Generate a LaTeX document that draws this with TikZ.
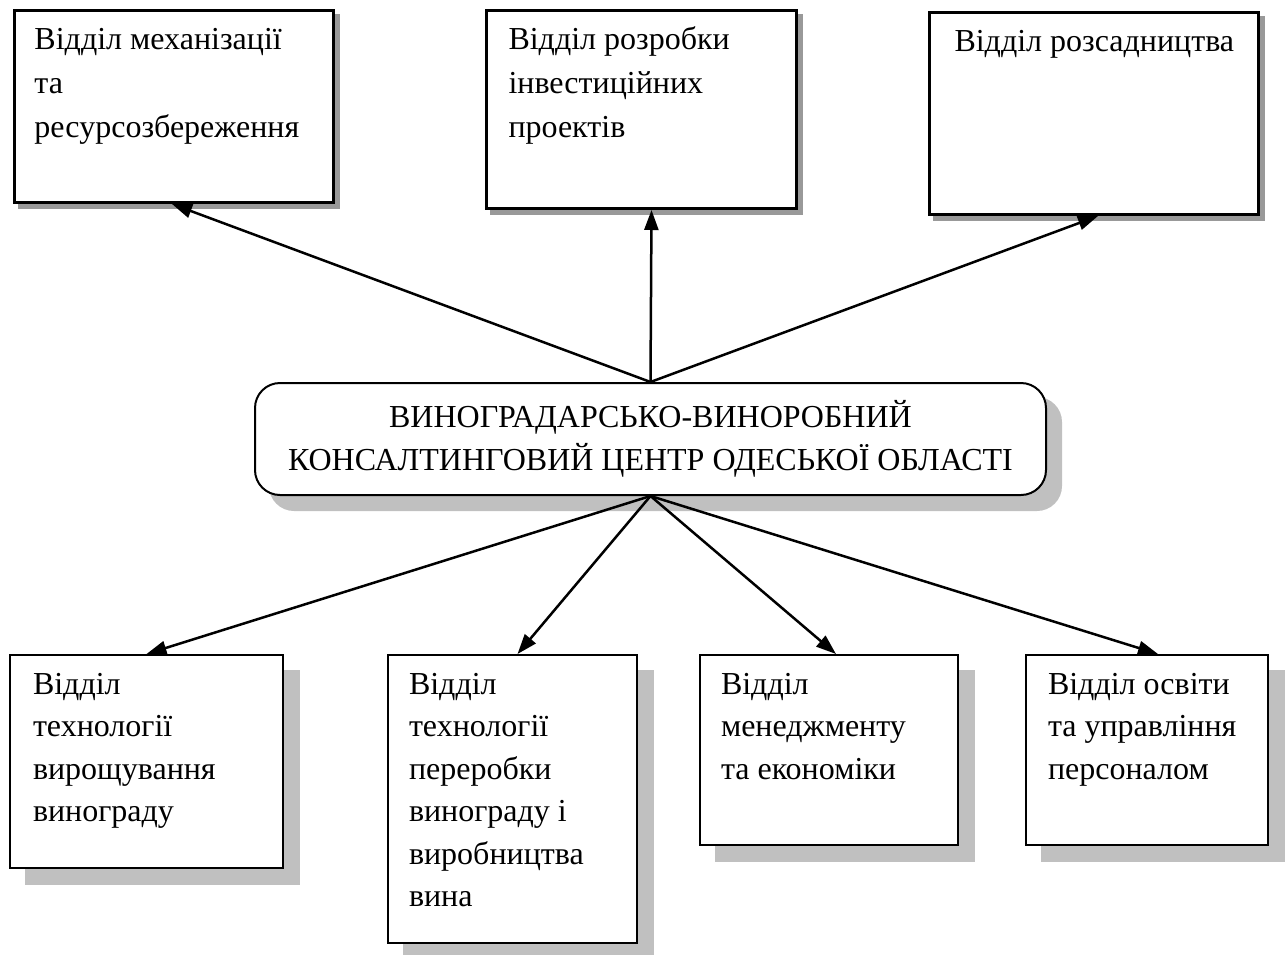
\documentclass[tikz,border=0pt]{standalone}
\usepackage{fontspec}
\setmainfont{Liberation Serif}
\usetikzlibrary{arrows.meta,backgrounds}
\newcommand\bxt[5]{\parbox[c][#1][t]{#2}{\fontsize{32}{#5}\selectfont\raggedright\leftskip=#3\relax\hyphenpenalty=10000\rule{0pt}{39pt}#4}}
\definecolor{shdark}{HTML}{999999}
\definecolor{shlight}{HTML}{C0C0C0}
\tikzset{
  topbox/.style={draw, line width=3pt, fill=white, inner sep=0pt, anchor=north west},
  botbox/.style={draw, line width=2pt, fill=white, inner sep=0pt, anchor=north west},
  centerbox/.style={draw, line width=2pt, fill=white, rounded corners=25pt, minimum width=791pt, minimum height=112pt, align=center, inner sep=0pt, font=\fontsize{32}{43}\selectfont},
  arr/.style={line width=2.5pt, -{Triangle[length=20pt,width=14pt]}},
}
\begin{document}
\begin{tikzpicture}[x=1pt,y=-1pt]
\useasboundingbox (0,0) rectangle (1286,954);
% top boxes
\node[topbox] (t1) at (13,9) {\bxt{192pt}{319pt}{20pt}{Відділ механізації\\та\\ресурсозбереження}{44}};
\node[topbox] (t2) at (485,9) {\bxt{198pt}{310pt}{22pt}{Відділ розробки\\інвестиційних\\проектів}{44}};
\node[topbox] (t3) at (928,11) {\bxt{202pt}{329pt}{25pt}{Відділ розсадництва}{44}};
% center
\node[centerbox] (c) at (650.5,439) {ВИНОГРАДАРСЬКО-ВИНОРОБНИЙ\\КОНСАЛТИНГОВИЙ ЦЕНТР ОДЕСЬКОЇ ОБЛАСТІ};
% bottom boxes
\node[botbox] (b1) at (9,654) {\bxt{213pt}{273pt}{23pt}{Відділ\\технології\\вирощування\\винограду}{42.5}};
\node[botbox] (b2) at (387,654) {\bxt{288pt}{249pt}{21pt}{Відділ\\технології\\переробки\\винограду і\\виробництва\\вина}{42.5}};
\node[botbox] (b3) at (699,654) {\bxt{190pt}{258pt}{21pt}{Відділ\\менеджменту\\та економіки}{42.5}};
\node[botbox] (b4) at (1025,654) {\bxt{190pt}{242pt}{22pt}{Відділ освіти\\та управління\\персоналом}{42.5}};
% shadows
\begin{pgfonlayer}{background}
\foreach \n in {t1,t2,t3}
  \fill[shdark] ([shift={(5,5)}]\n.north west) rectangle ([shift={(5,5)}]\n.south east);
\foreach \n in {b1,b2,b3,b4}
  \fill[shlight] ([shift={(16,16)}]\n.north west) rectangle ([shift={(16,16)}]\n.south east);
\fill[shlight, rounded corners=25pt] ([shift={(15,15)}]c.north west) rectangle ([shift={(15,15)}]c.south east);
\end{pgfonlayer}
% arrows
\draw[arr] (c.north) -- ([xshift=-2pt]t1.south);
\draw[arr] (c.north) -- ([xshift=10pt]t2.south);
\draw[arr] (c.north) -- ([xshift=4pt]t3.south);
\draw[arr] (c.south) -- (b1.north);
\draw[arr] (c.south) -- ([xshift=5pt]b2.north);
\draw[arr] (c.south) -- ([xshift=7pt]b3.north);
\draw[arr] (c.south) -- ([xshift=11pt]b4.north);
\end{tikzpicture}
\end{document}
